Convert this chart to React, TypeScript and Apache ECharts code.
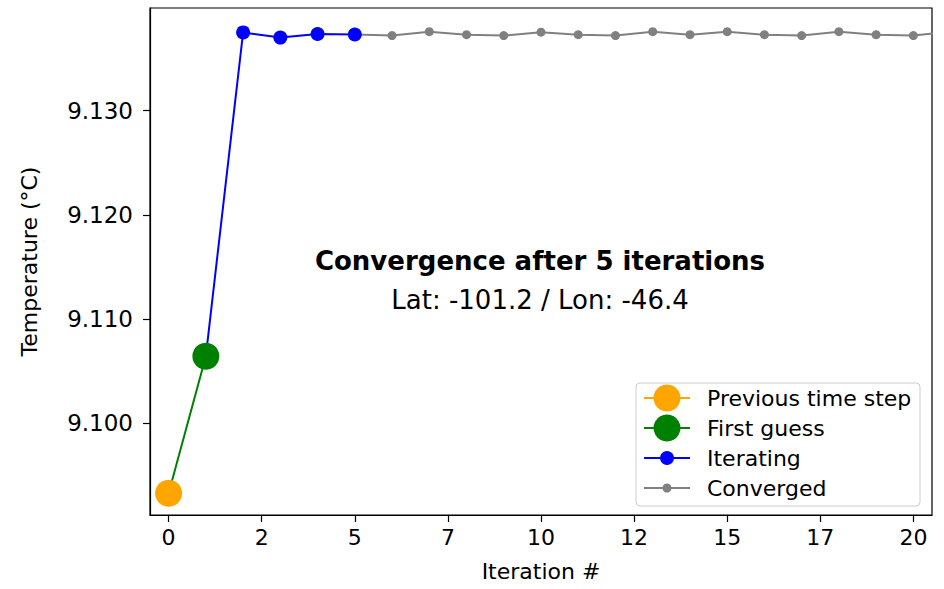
import React, { useEffect, useRef } from "react";
import * as echarts from "echarts";

// Solver state per iteration
const previousStepX = 0;
const previousStepY = 9.0933;
const firstGuessX = 1;
const firstGuessY = 9.10645;
const iteratingX = [2, 3, 4, 5];
const iteratingY = [9.1375, 9.137, 9.13735, 9.1373];
const convergedX = [6, 7, 8, 9, 10, 11, 12, 13, 14, 15, 16, 17, 18, 19, 20, 21];
const convergedY = [
  9.1372, 9.13757, 9.13728, 9.1372, 9.13752, 9.13728, 9.1372, 9.13757,
  9.13728, 9.13757, 9.13728, 9.1372, 9.13757, 9.13728, 9.1372, 9.13757,
];

const xTicks = [0, 2.5, 5, 7.5, 10, 12.5, 15, 17.5, 20];
const yTicks = [9.1, 9.11, 9.12, 9.13];

const legendNames = ["Previous time step", "First guess", "Iterating", "Converged"];
const legendColors = ["#FFA500", "#008000", "#0000FF", "#808080"];
const legendSizes = [27, 27, 14, 9];

const FONT = "DejaVu Sans";

export default function App() {
  const ref = useRef<HTMLDivElement>(null);

  useEffect(() => {
    if (!ref.current) return;
    const chart = echarts.init(ref.current, undefined, { renderer: "svg" });

    const lastIter = iteratingY[iteratingY.length - 1];

    const legendGraphics: any[] = [
      {
        type: "rect",
        shape: { x: 636, y: 383, width: 284, height: 123, r: 4 },
        style: { fill: "rgba(255,255,255,0.85)", stroke: "#cccccc", lineWidth: 1 },
        z: 10,
      },
    ];
    legendNames.forEach((name, i) => {
      const cy = 398 + i * 30;
      legendGraphics.push(
        {
          type: "line",
          shape: { x1: 644, y1: cy, x2: 690, y2: cy },
          style: { stroke: legendColors[i], lineWidth: 2 },
          z: 11,
        },
        {
          type: "circle",
          shape: { cx: 667, cy, r: legendSizes[i] / 2 },
          style: { fill: legendColors[i] },
          z: 12,
        },
        {
          type: "text",
          x: 707,
          y: cy,
          style: {
            text: name,
            fill: "#000",
            font: `22px '${FONT}'`,
            textVerticalAlign: "middle",
          },
          z: 12,
        }
      );
    });

    chart.setOption({
      animation: false,
      backgroundColor: "#ffffff",
      textStyle: { fontFamily: FONT },
      grid: {
        left: 150,
        top: 8,
        width: 782,
        height: 507,
        show: true,
        borderColor: "#000",
        borderWidth: 1.2,
        backgroundColor: "transparent",
      },
      xAxis: {
        type: "value",
        min: -0.5,
        max: 20.5,
        name: "Iteration #",
        nameLocation: "middle",
        nameGap: 45,
        nameTextStyle: { fontSize: 22, color: "#000", fontFamily: FONT },
        axisLine: { show: true, onZero: false, lineStyle: { color: "#000", width: 1.2 } },
        axisTick: {
          show: true,
          inside: false,
          length: 7,
          customValues: xTicks,
          lineStyle: { color: "#000", width: 1.2 },
        },
        axisLabel: {
          customValues: xTicks,
          formatter: (v: number) => String(Math.floor(v)),
          fontSize: 22,
          color: "#000",
          fontFamily: FONT,
          margin: 11,
        },
        splitLine: { show: false },
      },
      yAxis: {
        type: "value",
        min: 9.09122,
        max: 9.13984,
        name: "Temperature (°C)",
        nameLocation: "middle",
        nameGap: 110,
        nameTextStyle: { fontSize: 22, color: "#000", fontFamily: FONT },
        axisLine: { show: true, onZero: false, lineStyle: { color: "#000", width: 1.2 } },
        axisTick: {
          show: true,
          inside: false,
          length: 7,
          customValues: yTicks,
          lineStyle: { color: "#000", width: 1.2 },
        },
        axisLabel: {
          customValues: yTicks,
          formatter: (v: number) => v.toFixed(3),
          fontSize: 23,
          color: "#000",
          fontFamily: FONT,
          margin: 17,
        },
        splitLine: { show: false },
      },
      series: [
        {
          name: "Converged",
          type: "line",
          z: 2,
          symbol: "circle",
          symbolSize: 9,
          itemStyle: { color: "#808080" },
          lineStyle: { color: "#808080", width: 2 },
          data: [
            { value: [iteratingX[iteratingX.length - 1], lastIter], symbol: "none" },
            ...convergedX.map((x, i) => [x, convergedY[i]]),
          ],
        },
        {
          name: "Iterating",
          type: "line",
          z: 3,
          symbol: "circle",
          symbolSize: 14,
          itemStyle: { color: "#0000FF" },
          lineStyle: { color: "#0000FF", width: 2 },
          data: [
            { value: [firstGuessX, firstGuessY], symbol: "none" },
            ...iteratingX.map((x, i) => [x, iteratingY[i]]),
          ],
        },
        {
          name: "First guess",
          type: "line",
          z: 4,
          symbol: "circle",
          symbolSize: 27,
          itemStyle: { color: "#008000" },
          lineStyle: { color: "#008000", width: 2 },
          data: [
            { value: [previousStepX, previousStepY], symbol: "none" },
            [firstGuessX, firstGuessY],
          ],
        },
        {
          name: "Previous time step",
          type: "line",
          z: 5,
          symbol: "circle",
          symbolSize: 27,
          itemStyle: { color: "#FFA500" },
          lineStyle: { color: "#FFA500", width: 2 },
          data: [[previousStepX, previousStepY]],
        },
      ],
      graphic: [
        {
          type: "text",
          x: 540,
          y: 261,
          style: {
            text: "Convergence after 5 iterations",
            fill: "#000",
            font: `bold 26px '${FONT}'`,
            textAlign: "center",
            textVerticalAlign: "middle",
          },
          z: 10,
        },
        {
          type: "text",
          x: 540,
          y: 300,
          style: {
            text: "Lat: -101.2 / Lon: -46.4",
            fill: "#000",
            font: `26px '${FONT}'`,
            textAlign: "center",
            textVerticalAlign: "middle",
          },
          z: 10,
        },
        ...legendGraphics,
      ],
    });

    return () => chart.dispose();
  }, []);

  return (
    <div
      ref={ref}
      style={{ position: "fixed", left: 0, top: 0, width: 944, height: 589 }}
    />
  );
}
